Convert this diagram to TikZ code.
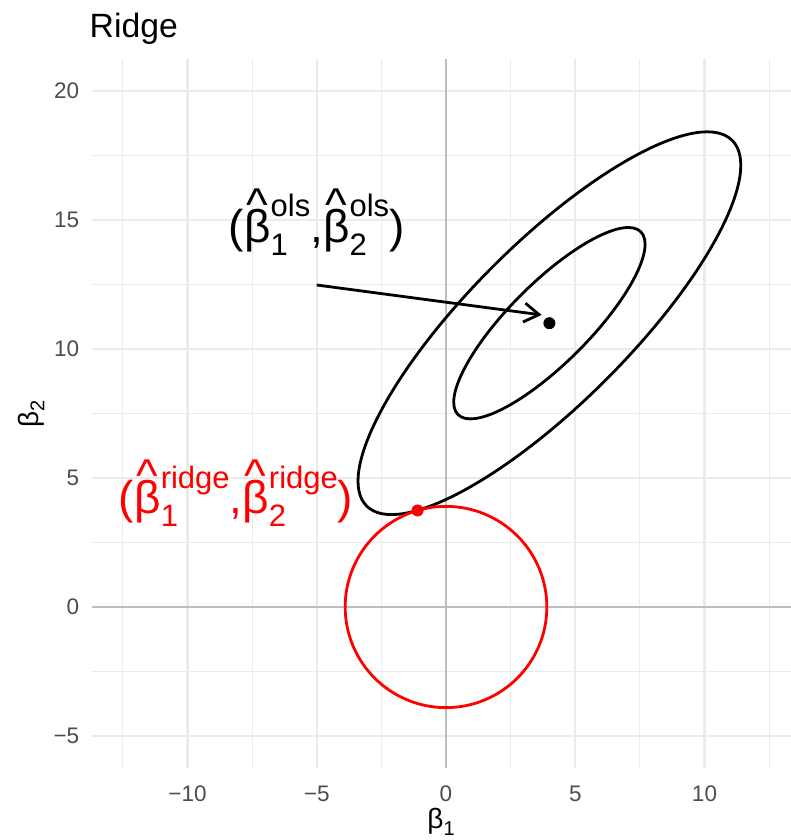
\documentclass[tikz,border=0pt]{standalone}
\usepackage{fontspec}
\setmainfont{Liberation Sans}
\usetikzlibrary{arrows.meta}
\definecolor{gridc}{HTML}{EBEBEB}
\definecolor{zeroc}{HTML}{BEBEBE}
\definecolor{tickc}{HTML}{4D4D4D}
\definecolor{ridgered}{HTML}{FF0000}
\newcommand\hatbeta{\leavevmode\hbox{\ooalign{β\cr\hidewidth\raisebox{0.48em}{\char"5E}\hidewidth\cr}}}
\newcommand\scrfont{\fontsize{31}{31}\selectfont}
\newcommand\betapair[2]{\hatbeta\rlap{\raisebox{-0.28em}{\scrfont #1}}\raisebox{0.55em}{\scrfont #2}}
\tikzset{
  minorgrid/.style={draw=gridc, line width=1.2pt},
  majorgrid/.style={draw=gridc, line width=2.3pt},
  zeroline/.style={draw=zeroc, line width=2.6pt},
  contour/.style={draw=black, line width=2.8pt},
  penalty/.style={draw=ridgered, line width=2.8pt},
  arrowline/.style={draw=black, line width=2.8pt, -{Straight Barb[length=15pt,width=19pt]}},
  dotmark/.style={circle, inner sep=0pt, minimum size=12pt},
  ticklabel/.style={text=tickc, inner sep=0pt, font=\fontsize{22.5}{24}\selectfont},
  axtitle/.style={text=black, inner sep=0pt, font=\fontsize{28}{30}\selectfont},
  plottitle/.style={text=black, inner sep=0pt, font=\fontsize{33.7}{36}\selectfont},
  annot/.style={inner sep=0pt, font=\fontsize{46}{50}\selectfont},
}
\begin{document}
\begin{tikzpicture}[x=25.85pt, y=25.8pt, shift={(446pt,233pt)}]
\useasboundingbox[fill=white] (-446pt,-233pt) rectangle (345pt,607pt);
% grid
\draw[minorgrid] foreach \x in {-12.5,-7.5,-2.5,2.5,7.5,12.5} {(\x,-6.24) -- (\x,21.24)};
\draw[minorgrid] foreach \y in {-2.5,2.5,7.5,12.5,17.5} {(-13.69,\y) -- (13.35,\y)};
\draw[majorgrid] foreach \x in {-10,-5,5,10} {(\x,-6.24) -- (\x,21.24)};
\draw[majorgrid] foreach \y in {-5,5,10,15,20} {(-13.69,\y) -- (13.35,\y)};
\draw[zeroline] (0,-6.24) -- (0,21.24);
\draw[zeroline] (-13.69,0) -- (13.35,0);
% contours
\draw[contour, rotate around={45:(4,11)}] (4,11) ellipse [x radius=10, y radius=3.1];
\draw[contour, rotate around={45:(4,11)}] (4,11) ellipse [x radius=5, y radius=1.55];
\draw[penalty] (0,0) circle [radius=3.9];
% arrow and points
\coordinate (arrowfrom) at (-5,12.48);
\coordinate (arrowto) at (3.7,11.32);
\draw[arrowline] (arrowfrom) -- (arrowto);
\node[dotmark, fill=black] (olspt) at (4,11) {};
\node[dotmark, fill=ridgered] (ridgept) at (-1.1,3.74) {};
% annotations
\node[annot, text=black, anchor=base] (olslabel) at (-5,14.14) {(\betapair{1}{ols},\betapair{2}{ols})};
\node[annot, text=ridgered, anchor=base] (ridgelabel) at (-8.12,3.63) {(\betapair{1}{ridge},\betapair{2}{ridge})};
% tick labels
\foreach \x/\t [count=\i] in {-10/−10,-5/−5,0/0,5/5,10/10}
  \node[ticklabel, anchor=base] (xt\i) at (\x,-7.52) {\t};
\foreach \y/\t [count=\i] in {-5/−5,0/0,5/5,10/10,15/15,20/20}
  \node[ticklabel, anchor=east] (yt\i) at (-14.18,\y) {\t};
% axis titles and title
\node[axtitle, anchor=base] (xtitle) at (-0.19,-8.6) {β\raisebox{-0.22em}{\fontsize{20}{20}\selectfont 1}};
\node[axtitle, anchor=center, rotate=90] (ytitle) at (-16.05,7.48) {β\raisebox{-0.22em}{\fontsize{20}{20}\selectfont 2}};
\node[plottitle, anchor=base west] (title) at (-13.79,22.09) {Ridge};
\end{tikzpicture}
\end{document}
